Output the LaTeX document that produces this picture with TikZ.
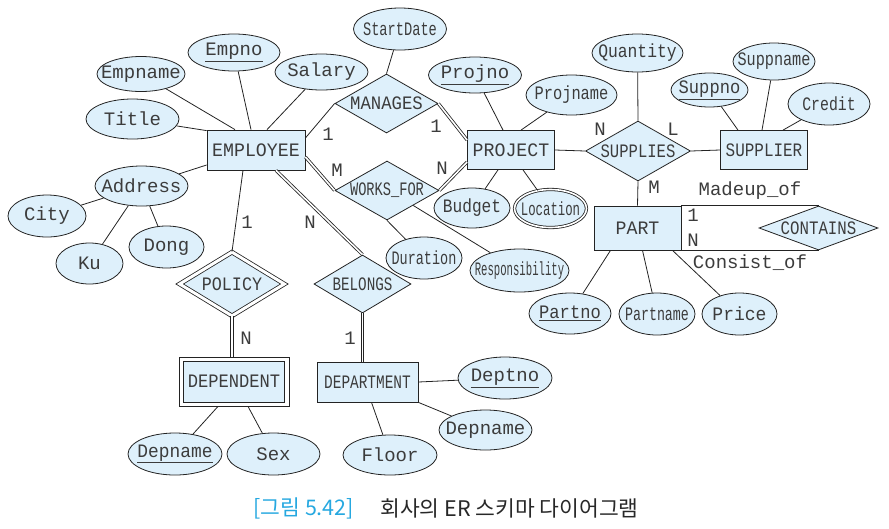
\documentclass[tikz,border=0pt]{standalone}
\usepackage{fontspec}
\usepackage{tikz}
\usetikzlibrary{shapes.geometric, positioning}
\newfontfamily\erfont{Liberation Mono}
\newfontfamily\capfont{Noto Sans CJK KR}
\definecolor{erblue}{RGB}{222,240,251}
\definecolor{erline}{RGB}{35,35,35}
\definecolor{ertext}{RGB}{60,60,60}
\definecolor{capblue}{RGB}{38,168,224}
\definecolor{captext}{RGB}{40,40,40}
% texte centre, sans largeur (la forme prend sa taille de sz)
\newcommand{\zw}[2][1]{\makebox[0pt]{\scalebox{#1}[1]{#2}}}

\begin{document}
\begin{tikzpicture}[x=1pt, y=-1pt, line width=0.8pt,
    sz/.style 2 args={minimum width=#1, minimum height=#2},
    ent/.style={rectangle, draw=erline, fill=erblue, inner sep=0pt, text=ertext, font=\erfont\fontsize{19}{22}\selectfont},
    rel/.style={diamond, draw=erline, fill=erblue, inner sep=0pt, text=ertext, font=\erfont\fontsize{19}{22}\selectfont},
    attr/.style={ellipse, draw=erline, fill=erblue, inner sep=0pt, text=ertext, font=\erfont\fontsize{19}{22}\selectfont},
    card/.style={inner sep=0pt, text=ertext, font=\erfont\fontsize{19}{22}\selectfont},
    link/.style={draw=erline},
    dbl/.style={draw=erline, double, double distance=1.6pt}]
    \useasboundingbox (0,0) rectangle (889,528);
    % Entites
    \node[ent, sz={98}{40}] (emp) at (256,150) {\zw[0.96]{EMPLOYEE}};
    \node[ent, sz={87}{39}] (proj) at (511,150) {\zw[0.96]{PROJECT}};
    \node[ent, sz={87}{39}] (supr) at (764,150) {\zw[0.84]{SUPPLIER}};
    \node[ent, sz={87}{44}] (part) at (637.5,228) {\zw[0.96]{PART}};
    \node[ent, sz={101}{40}] (dept) at (367.5,382) {\zw[0.76]{DEPARTMENT}};
    \node[rectangle, draw=erline, fill=white, inner sep=0pt, sz={110}{49}] (depout) at (234,381.5) {};
    \node[ent, sz={101}{41}] (dep) at (234,381.5) {\zw[0.9]{DEPENDENT}};
    % Relations
    \node[rel, sz={103}{59}] (man) at (386.5,103.5) {\zw[0.91]{MANAGES}};
    \node[rel, sz={104}{59}] (wf) at (387,190.5) {\zw[0.72]{WORKS\_FOR}};
    \node[rel, sz={105}{60}] (sup) at (638,151) {\zw[0.82]{SUPPLIES}};
    \node[rel, double, double distance=3pt, sz={105}{64}] (pol) at (232,284) {\zw[0.88]{POLICY}};
    \node[rel, sz={97}{58}] (bel) at (362.5,284) {\zw[0.75]{BELONGS}};
    \node[rel, sz={119}{44}] (cont) at (818.5,228) {\zw[0.83]{CONTAINS}};
    % Attributs
    \node[attr, sz={93}{42}] (sdate) at (400,29) {\zw[0.72]{StartDate}};
    \node[attr, sz={92}{37}] (empno) at (234,52.5) {\zw{\underline{Empno}}};
    \node[attr, sz={88}{35}] (ename) at (141,74) {\zw{Empname}};
    \node[attr, sz={93}{36}] (sal) at (321.5,72) {\zw{Salary}};
    \node[attr, sz={93}{40}] (title) at (132.5,119) {\zw{Title}};
    \node[attr, sz={93}{40}] (addr) at (141.5,186) {\zw{Address}};
    \node[attr, sz={78}{42}] (city) at (47,216) {\zw{City}};
    \node[attr, sz={75}{42}] (dong) at (166.5,247) {\zw{Dong}};
    \node[attr, sz={67}{41}] (ku) at (89.5,263.5) {\zw{Ku}};
    \node[attr, sz={93}{36}] (pno) at (475,75) {\zw{\underline{Projno}}};
    \node[attr, sz={91}{40}] (pname) at (571.5,95) {\zw[0.81]{Projname}};
    \node[attr, sz={76}{40}] (budget) at (472,208) {\zw[0.85]{Budget}};
    \node[attr, double, double distance=1.6pt, sz={72}{38}] (loc) at (550.5,208.5) {\zw[0.65]{Location}};
    \node[attr, sz={76}{42}] (dur) at (424,258) {\zw[0.71]{Duration}};
    \node[attr, sz={99}{43}] (resp) at (519.5,270.5) {\zw[0.56]{Responsibility}};
    \node[attr, sz={91}{38}] (qty) at (637.5,53) {\zw[0.86]{Quantity}};
    \node[attr, sz={77}{34}] (sno) at (709.5,90) {\zw[0.9]{\underline{Suppno}}};
    \node[attr, sz={82}{37}] (sname) at (774,61.5) {\zw[0.8]{Suppname}};
    \node[attr, sz={82}{42}] (credit) at (829,104) {\zw[0.78]{Credit}};
    \node[attr, sz={82}{41}] (partno) at (570,313.5) {\zw[0.9]{\underline{Partno}}};
    \node[attr, sz={76}{42}] (ptname) at (657,314) {\zw[0.7]{Partname}};
    \node[attr, sz={75}{42}] (price) at (739.5,314) {\zw[0.95]{Price}};
    \node[attr, sz={94}{42}] (dno) at (505,378) {\zw{\underline{Deptno}}};
    \node[attr, sz={93}{40}] (dname) at (485.5,430) {\zw{Depname}};
    \node[attr, sz={94}{40}] (floor) at (390,455) {\zw{Floor}};
    \node[attr, sz={94}{42}] (dpname) at (175,454) {\zw[0.94]{\underline{Depname}}};
    \node[attr, sz={93}{42}] (sex) at (273.5,454) {\zw{Sex}};
    % Liens des attributs
    \draw[link] (ename) -- ([xshift=-21pt]emp.north);
    \draw[link] (empno) -- ([xshift=-5pt]emp.north);
    \draw[link] (sal) -- ([xshift=11pt]emp.north);
    \draw[link] (title) -- ([yshift=-1pt]emp.north west);
    \draw[link] (addr) -- ([yshift=-15pt]emp.west);
    \draw[link] (addr) -- (city);
    \draw[link] (addr) -- (ku);
    \draw[link] (addr) -- (dong);
    \draw[link] (sdate) -- (man.north);
    \draw[link] (pno) -- ([xshift=-8pt]proj.north);
    \draw[link] (pname) -- ([xshift=10pt]proj.north);
    \draw[link] (budget) -- ([xshift=-13pt]proj.south);
    \draw[link] (loc) -- ([xshift=12pt]proj.south);
    \draw[link] (wf.south) -- (dur);
    \draw[link] (wf.south east) -- (resp);
    \draw[link] (qty) -- (sup.north);
    \draw[link] (sno) -- ([xshift=-26pt]supr.north);
    \draw[link] (sname) -- ([xshift=-2pt]supr.north);
    \draw[link] (credit) -- ([xshift=19pt]supr.north);
    \draw[link] (partno) -- ([xshift=-27pt]part.south);
    \draw[link] (ptname) -- ([xshift=5pt]part.south);
    \draw[link] (price) -- ([xshift=35pt]part.south);
    \draw[link] (dno) -- (dept.east);
    \draw[link] (dname) -- (dept.south east);
    \draw[link] (floor) -- ([xshift=4pt]dept.south);
    \draw[link] (dpname) -- ([xshift=-16pt]depout.south);
    \draw[link] (sex) -- ([xshift=14pt]depout.south);
    % Liens des relations
    \draw[link] ([yshift=12pt]emp.east) -- (man.west);
    \draw[dbl] (man.east) -- ([yshift=10pt]proj.west);
    \draw[dbl] ([yshift=-7pt]emp.east) -- (wf.west);
    \draw[dbl] (wf.east) -- ([yshift=-12pt]proj.west);
    \draw[link] (proj.east) -- (sup.west);
    \draw[link] (sup.east) -- (supr.west);
    \draw[link] (sup.south) -- (part.north);
    \draw[link] (part.north east) -- (cont.north);
    \draw[link] (part.south east) -- (cont.south);
    \draw[link] ([xshift=-13pt]emp.south) -- (pol.north);
    \draw[dbl] (pol.south) -- (pol.south |- depout.north);
    \draw[dbl] ([xshift=20pt]emp.south) -- (bel.north);
    \draw[dbl] (bel.south) -- (bel.south |- dept.north);
    % Cardinalites
    \node[card] (c1) at (328,134) {1};
    \node[card] (c2) at (436,126) {1};
    \node[card] (c3) at (337,170) {M};
    \node[card] (c4) at (442,168) {N};
    \node[card] (c5) at (600,129) {N};
    \node[card] (c6) at (673,129) {L};
    \node[card] (c7) at (654,187) {M};
    \node[card] (c8) at (247,222) {1};
    \node[card] (c9) at (310,222) {N};
    \node[card] (c10) at (246,338) {N};
    \node[card] (c11) at (350,338) {1};
    \node[card] (c12) at (693,215) {1};
    \node[card] (c13) at (693,240) {N};
    \node[card] (madeup) at (750,191) {Madeup\_of};
    \node[card] (consist) at (750,263) {Consist\_of};
    % Legende
    \node[anchor=west, inner sep=0pt, text=capblue, font=\capfont\fontsize{21.5}{24}\selectfont] (capnum) at (253,508) {[그림 5.42]};
    \node[anchor=west, inner sep=0pt, text=captext, font=\capfont\fontsize{21.5}{24}\selectfont] (captxt) at (380,508) {회사의 ER 스키마 다이어그램};
\end{tikzpicture}
\end{document}
